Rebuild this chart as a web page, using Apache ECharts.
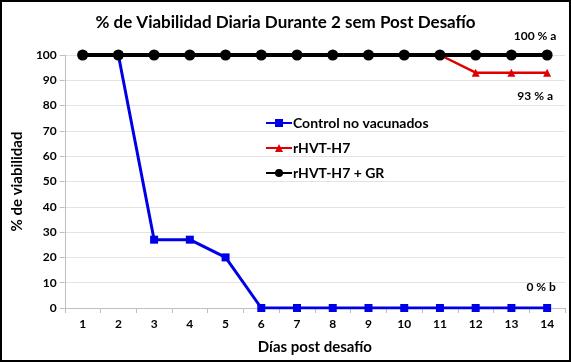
<!DOCTYPE html>
<html><head><meta charset="utf-8">
<script src="https://cdn.jsdelivr.net/npm/echarts@6/dist/echarts.min.js"></script>
<style>html,body{margin:0;padding:0;background:#fff}#c{width:571px;height:362px;box-sizing:border-box;border:2px solid #000}</style>
</head><body><div id="c"></div>
<script>
var days = ['1','2','3','4','5','6','7','8','9','10','11','12','13','14'];
var control = [100,100,27,27,20,0,0,0,0,0,0,0,0,0];
var rhvt = [100,100,100,100,100,100,100,100,100,100,100,93,93,93];
var rhvtGR = [100,100,100,100,100,100,100,100,100,100,100,100,100,100];
var seriesNames = ['Control no vacunados','rHVT-H7','rHVT-H7 + GR'];
var endLabels = ['0 % b','93 % a','100 % a'];
var FONT = 'Lato, "Open Sans", sans-serif';
var chart = echarts.init(document.getElementById('c'));
function lastLabel(arr, txt, dx, dy){
  return arr.map(function(v,i){
    if(i===arr.length-1){
      return {value:v, label:{show:true, formatter:txt, position:'top', offset:[dx,dy], color:'#000', fontWeight:'bold', fontSize:12, fontFamily:FONT}};
    }
    return v;
  });
}
chart.setOption({
  animation:false,
  title:{text:'% de Viabilidad Diaria Durante 2 sem Post Desafío', left:'center', top:7,
    textStyle:{fontFamily:FONT, fontWeight:'bold', fontSize:17, color:'#000'}},
  grid:{left:61, right:4, top:53, bottom:52},
  legend:{orient:'vertical', left:258, top:109, itemGap:11, itemWidth:26, itemHeight:10,
    textStyle:{fontFamily:FONT, fontWeight:'bold', fontSize:14, color:'#000', padding:[0,0,0,-4]},
    data:seriesNames},
  xAxis:{type:'category', data:days, boundaryGap:true,
    name:'Días post desafío', nameLocation:'middle', nameGap:32,
    nameTextStyle:{fontFamily:FONT, fontWeight:'bold', fontSize:15, color:'#000'},
    axisLine:{lineStyle:{color:'#bfbfbf'}}, axisTick:{show:true, lineStyle:{color:'#bfbfbf'}},
    axisLabel:{fontFamily:FONT, fontWeight:'bold', fontSize:12, color:'#000', margin:10}},
  yAxis:{type:'value', min:0, max:100, interval:10,
    name:'% de viabilidad', nameLocation:'middle', nameGap:35, nameRotate:90,
    nameTextStyle:{fontFamily:FONT, fontWeight:'bold', fontSize:15, color:'#000'},
    axisLine:{show:true, lineStyle:{color:'#bfbfbf'}}, axisTick:{show:true, lineStyle:{color:'#bfbfbf'}},
    splitLine:{lineStyle:{color:'#e3e3e3'}},
    axisLabel:{fontFamily:FONT, fontWeight:'bold', fontSize:12, color:'#000', margin:8}},
  series:[
    {name:seriesNames[0], type:'line', data:lastLabel(control, endLabels[0], -6, -6), color:'#0000e6',
      symbol:'rect', symbolSize:8, lineStyle:{width:3}, z:2},
    {name:seriesNames[1], type:'line', data:lastLabel(rhvt, endLabels[1], -12, 38), color:'#e00000',
      symbol:'triangle', symbolSize:8, lineStyle:{width:2.5}, z:3},
    {name:seriesNames[2], type:'line', data:lastLabel(rhvtGR, endLabels[2], -12, -2), color:'#000000',
      symbol:'circle', symbolSize:11, lineStyle:{width:4}, z:4}
  ]
});
</script></body></html>
